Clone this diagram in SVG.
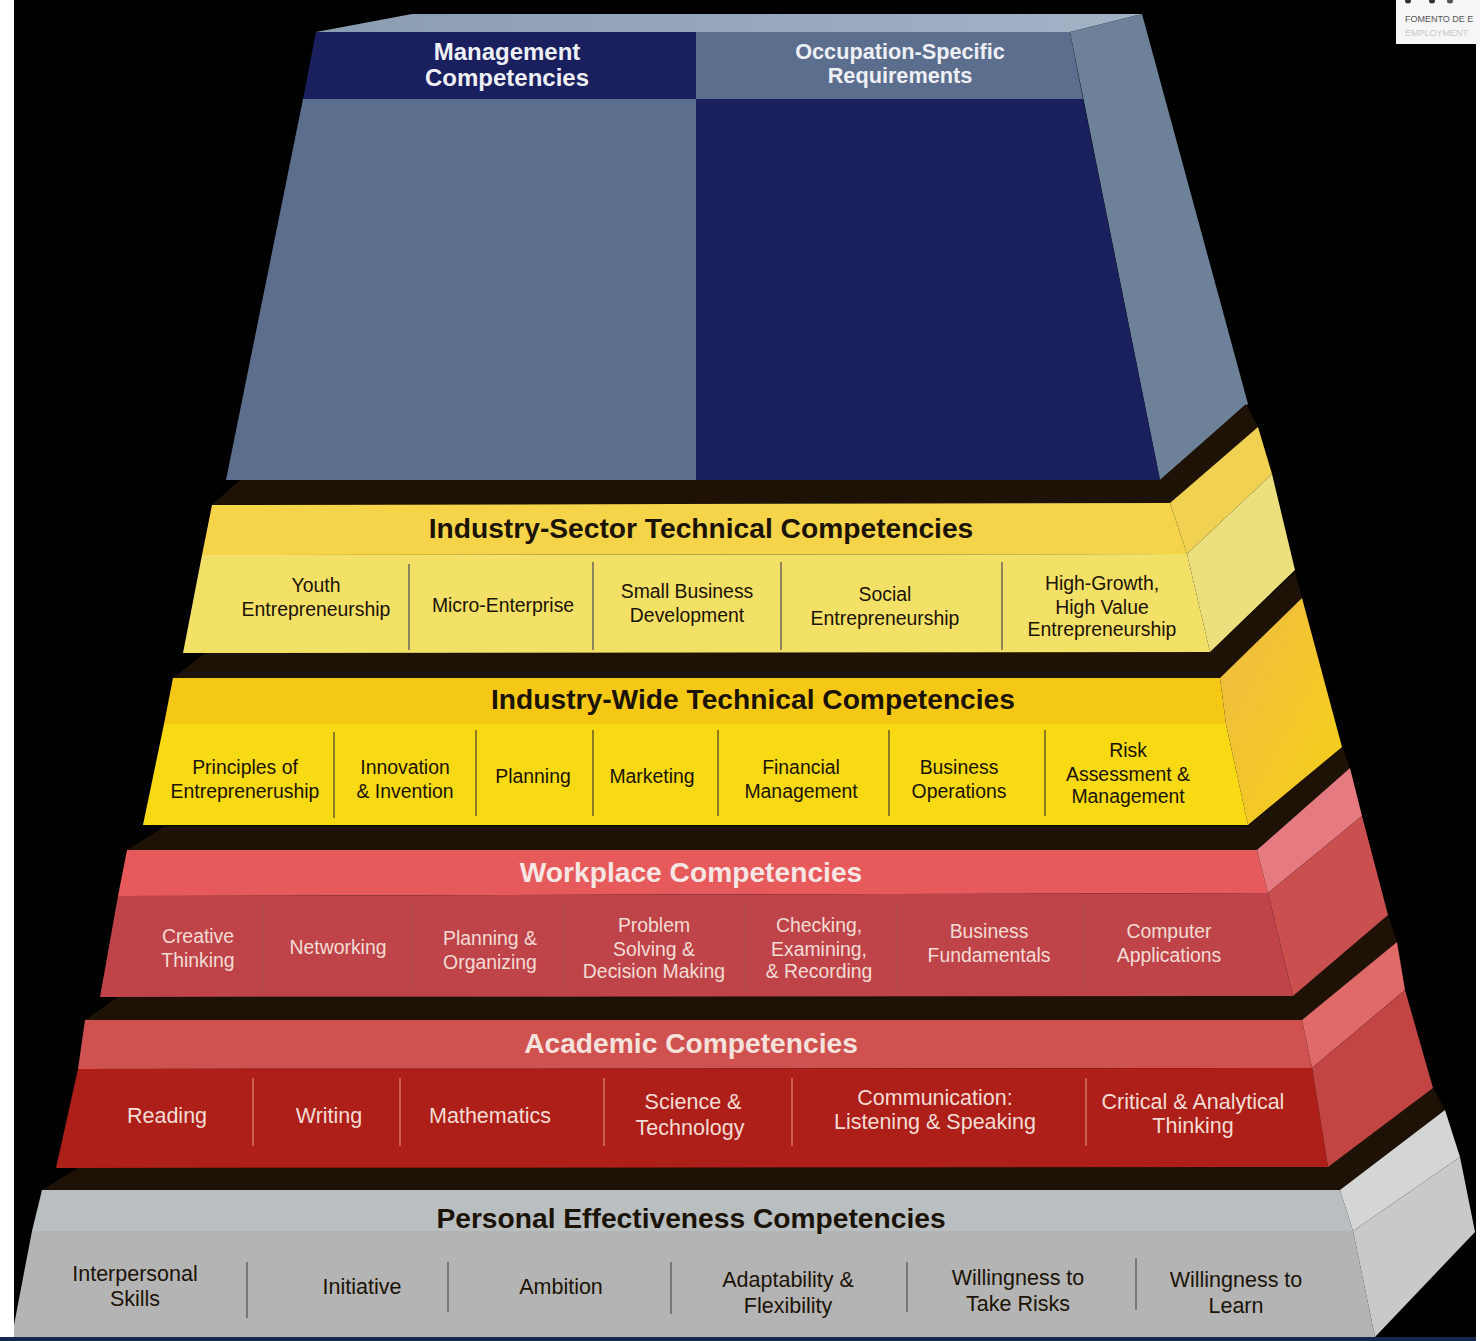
<svg xmlns="http://www.w3.org/2000/svg" width="1480" height="1341" viewBox="0 0 1480 1341">
<defs>
<linearGradient id="wideSide" x1="0" y1="0" x2="1" y2="1"><stop offset="0" stop-color="#eebb45"/><stop offset="0.6" stop-color="#f3c828"/><stop offset="1" stop-color="#f5d018"/></linearGradient>
<linearGradient id="topBand" x1="0" y1="0" x2="1" y2="0"><stop offset="0" stop-color="#8a9cb2"/><stop offset="1" stop-color="#a2b3c6"/></linearGradient>
</defs>
<style>
text{font-family:"Liberation Sans",Arial,sans-serif;text-anchor:middle}
.h{font-size:28.2px;font-weight:700}
.t{font-size:19.4px}
.b{font-size:21.5px}
.d{fill:#1e1206}
.k{fill:#1b1306}
.w{fill:#f3dcd4}
.m{font-size:24px;font-weight:700;fill:#eef0f6}
.o{font-size:21.7px;font-weight:700;fill:#eef0f6}
.s{stroke-width:2;fill:none}
.l{font-size:9px;text-anchor:start}
</style>
<rect width="1480" height="1341" fill="#000"/>
<rect x="0" y="0" width="14" height="1337" fill="#fff"/>
<rect x="0" y="1337" width="1480" height="4" fill="#12284c"/>
<rect x="1476" y="44" width="4" height="1297" fill="#fff"/>
<g id="logo"><rect x="1396" y="0" width="84" height="44" fill="#f6f6f6"/>
<ellipse cx="1408" cy="1" rx="3" ry="2.5" fill="#333"/><ellipse cx="1432" cy="1" rx="3" ry="2.5" fill="#333"/><ellipse cx="1450" cy="1" rx="3" ry="2.5" fill="#555"/>
<text class="l" x="1405" y="22" fill="#555">FOMENTO DE E</text><text class="l" x="1405" y="36" fill="#c8c8c8">EMPLOYMENT</text></g>

<g id="tier-top">
<polygon points="316,32 412,14 1142,14 1070,32" fill="url(#topBand)"/>
<polygon points="1070,32 1142,14 1248,404 1160,480" fill="#6d8299"/>
<polygon points="226,480 303,99 696,99 696,480" fill="#5b6e8e"/>
<polygon points="696,99 1083,99 1160,480 696,480" fill="#1a1f5e"/>
<polygon points="316,32 696,32 696,99 303,99" fill="#1a1f5e"/>
<polygon points="696,32 1070,32 1083,99 696,99" fill="#5b6e8e"/>
<text class="m" x="507" y="60">Management</text>
<text class="m" x="507" y="86">Competencies</text>
<text class="o" x="900" y="59">Occupation-Specific</text>
<text class="o" x="900" y="83">Requirements</text>
</g>

<g id="shadows">
<polygon class="d" points="240,480 1160,480 1246,404 1258,427 1170,503 212,505"/>
<polygon class="d" points="205,653 1210,652 1295,572 1302,598 1220,678 173,678"/>
<polygon class="d" points="165,826 1248,826 1342,747 1350,768 1257,850 127,850"/>
<polygon class="d" points="118,997 1293,996 1388,915 1397,942 1302,1020 85,1020"/>
<polygon class="d" points="78,1168 1328,1167 1433,1088 1445,1110 1340,1190 42,1190"/>
</g>

<g id="tier-sector">
<polygon points="212,505 1170,503 1187,554 202,555" fill="#f5d44a"/>
<polygon points="202,555 1187,554 1210,652 183,653" fill="#f3e066"/>
<polygon points="1170,503 1258,427 1272,474 1187,554" fill="#f1d152"/>
<polygon points="1187,554 1272,474 1295,570 1210,652" fill="#ece07e"/>
<text class="h k" x="701" y="538">Industry-Sector Technical Competencies</text>
<path class="s" stroke="#8e8460" d="M409,564V650M593,562V650M781,562V650M1002,562V650"/>
<g class="t k"><text x="316" y="592">Youth</text><text x="316" y="616">Entrepreneurship</text><text x="503" y="612">Micro-Enterprise</text><text x="687" y="598">Small Business</text><text x="687" y="622">Development</text><text x="885" y="601">Social</text><text x="885" y="625">Entrepreneurship</text><text x="1102" y="590">High-Growth,</text><text x="1102" y="614">High Value</text><text x="1102" y="636">Entrepreneurship</text></g>
</g>

<g id="tier-wide">
<polygon points="173,678 1220,678 1226,724 164,724" fill="#f5c816"/>
<polygon points="164,724 1226,724 1248,825 143,825" fill="#f7d914"/>
<polygon points="1220,678 1302,598 1342,747 1248,825 1226,724" fill="url(#wideSide)"/>
<text class="h k" x="753" y="709">Industry-Wide Technical Competencies</text>
<path class="s" stroke="#8e7a20" d="M334,732V818M476,730V816M593,730V816M718,730V816M889,730V816M1045,730V816"/>
<g class="t k"><text x="245" y="774">Principles of</text><text x="245" y="798">Entrepreneruship</text><text x="405" y="774">Innovation</text><text x="405" y="798">&amp; Invention</text><text x="533" y="783">Planning</text><text x="652" y="783">Marketing</text><text x="801" y="774">Financial</text><text x="801" y="798">Management</text><text x="959" y="774">Business</text><text x="959" y="798">Operations</text><text x="1128" y="757">Risk</text><text x="1128" y="781">Assessment &amp;</text><text x="1128" y="803">Management</text></g>
</g>

<g id="tier-workplace">
<polygon points="127,850 1257,850 1268,893 118,896" fill="#e65a5c"/>
<polygon points="118,896 1268,893 1293,996 100,997" fill="#bf444a"/>
<polygon points="1257,850 1350,768 1362,816 1268,893" fill="#e57b80"/>
<polygon points="1268,893 1362,816 1388,915 1293,996" fill="#ca4f4f"/>
<text class="h" x="691" y="882" fill="#f6e6e4">Workplace Competencies</text>
<path class="s" stroke="#b2484e" d="M263,904V990M411,904V990M563,904V990M745,904V990M897,904V990M1083,904V990"/>
<g class="t w"><text x="198" y="943">Creative</text><text x="198" y="967">Thinking</text><text x="338" y="954">Networking</text><text x="490" y="945">Planning &amp;</text><text x="490" y="969">Organizing</text><text x="654" y="932">Problem</text><text x="654" y="956">Solving &amp;</text><text x="654" y="978">Decision Making</text><text x="819" y="932">Checking,</text><text x="819" y="956">Examining,</text><text x="819" y="978">&amp; Recording</text><text x="989" y="938">Business</text><text x="989" y="962">Fundamentals</text><text x="1169" y="938">Computer</text><text x="1169" y="962">Applications</text></g>
</g>

<g id="tier-academic">
<polygon points="85,1020 1302,1020 1312,1068 78,1069" fill="#cf5150"/>
<polygon points="78,1069 1312,1068 1328,1167 56,1168" fill="#ad1f18"/>
<polygon points="1302,1020 1397,942 1405,990 1312,1068" fill="#e06a68"/>
<polygon points="1312,1068 1405,990 1433,1088 1328,1167" fill="#c24544"/>
<text class="h" x="691" y="1053" fill="#f6e2dc">Academic Competencies</text>
<path class="s" stroke="#c8604a" d="M253,1078V1146M400,1078V1146M604,1078V1146M792,1078V1146M1086,1078V1146"/>
<g class="b w"><text x="167" y="1123">Reading</text><text x="329" y="1123">Writing</text><text x="490" y="1123">Mathematics</text><text x="693" y="1109">Science &amp;</text><text x="690" y="1135">Technology</text><text x="935" y="1105">Communication:</text><text x="935" y="1129">Listening &amp; Speaking</text><text x="1193" y="1109">Critical &amp; Analytical</text><text x="1193" y="1133">Thinking</text></g>
</g>

<g id="tier-personal">
<polygon points="42,1190 1340,1190 1353,1231 32,1231" fill="#b9bec1"/>
<polygon points="32,1231 1353,1231 1375,1337 14,1337 14,1325" fill="#b4b4b4"/>
<polygon points="1340,1190 1445,1110 1460,1157 1353,1231" fill="#d4d6d6"/>
<polygon points="1353,1231 1460,1157 1475,1232 1375,1337" fill="#c8caca"/>
<text class="h k" x="691" y="1228">Personal Effectiveness Competencies</text>
<path class="s" stroke="#77777a" d="M247,1262V1318M448,1262V1312M671,1262V1314M907,1262V1312M1136,1258V1310"/>
<g class="b k"><text x="135" y="1281">Interpersonal</text><text x="135" y="1306">Skills</text><text x="362" y="1294">Initiative</text><text x="561" y="1294">Ambition</text><text x="788" y="1287">Adaptability &amp;</text><text x="788" y="1313">Flexibility</text><text x="1018" y="1285">Willingness to</text><text x="1018" y="1311">Take Risks</text><text x="1236" y="1287">Willingness to</text><text x="1236" y="1313">Learn</text></g>
</g>
</svg>
